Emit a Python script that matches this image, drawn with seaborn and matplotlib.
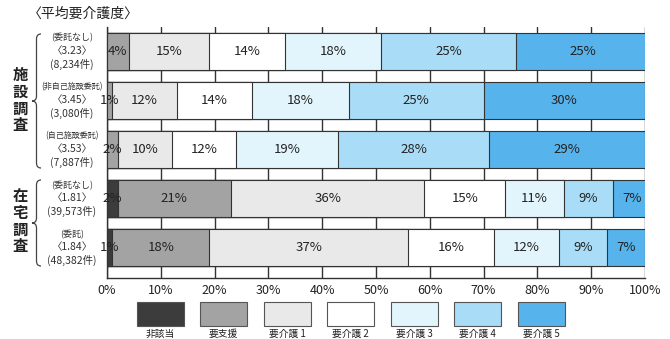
import numpy as np
import pandas as pd
import matplotlib
matplotlib.use("Agg")
import matplotlib.pyplot as plt
import seaborn as sns
from matplotlib.path import Path
from matplotlib.patches import PathPatch, Rectangle

# ---------------- data ----------------
rows = ["施設_委託なし", "施設_非自己施設委託", "施設_自己施設委託", "在宅_委託なし", "在宅_委託"]
row_types = ["(委託なし)", "(非自己施設委託)", "(自己施設委託)", "(委託なし)", "(委託)"]
row_avgs = ["〈3.23〉", "〈3.45〉", "〈3.53〉", "〈1.81〉", "〈1.84〉"]
row_counts = ["(8,234件)", "(3,080件)", "(7,887件)", "(39,573件)", "(48,382件)"]
categories = ["非該当", "要支援", "要介護 1", "要介護 2", "要介護 3", "要介護 4", "要介護 5"]
v_higaito = [0, 0, 0, 2, 1]
v_yoshien = [4, 1, 2, 21, 18]
v_kaigo1 = [15, 12, 10, 36, 37]
v_kaigo2 = [14, 14, 12, 15, 16]
v_kaigo3 = [18, 18, 19, 11, 12]
v_kaigo4 = [25, 25, 28, 9, 9]
v_kaigo5 = [25, 30, 29, 7, 7]
groups = ["施設調査", "在宅調査"]
x_ticks = [0, 10, 20, 30, 40, 50, 60, 70, 80, 90, 100]
title = "〈平均要介護度〉"

colors = ["#3c3c3c", "#a3a3a3", "#e9e9e9", "#ffffff", "#e2f4fc", "#a9dcf6", "#56b3ec"]

# ---------------- setup ----------------
sns.set_theme(style="white")
plt.rcParams["font.family"] = ["Noto Sans CJK JP", "DejaVu Sans"]

fig = plt.figure(figsize=(6.7, 3.39), dpi=100)
ax = fig.add_axes([107 / 670, 1 - 278 / 339, 538 / 670, (278 - 27) / 339])

vals = np.array([v_higaito, v_yoshien, v_kaigo1, v_kaigo2, v_kaigo3, v_kaigo4, v_kaigo5], dtype=float)
cum = np.cumsum(vals, axis=0)

# gridlines behind
for t in x_ticks:
    ax.axvline(t, color="#333333", lw=1.0, zorder=0)

# stacked bars: overlay cumulative bars from longest to shortest
for i in range(len(categories) - 1, -1, -1):
    df = pd.DataFrame({"row": rows, "cum": cum[i]})
    sns.barplot(data=df, x="cum", y="row", orient="h", color=colors[i],
                width=0.755, edgecolor="#333333", linewidth=0.8, ax=ax,
                saturation=1, zorder=2 + (len(categories) - i))

# percentage labels
for r in range(len(rows)):
    for i in range(len(categories)):
        v = vals[i, r]
        if v <= 0:
            continue
        xc = cum[i, r] - v / 2
        ax.text(xc, r, f"{int(v)}%", ha="center", va="center", fontsize=9.5,
                color="#222222", zorder=20)

ax.set_xlim(0, 100)
ax.set_ylim(4.62, -0.49)
ax.set_xticks(x_ticks)
ax.set_xticklabels([f"{t}%" for t in x_ticks], fontsize=9, color="#222222")
ax.set_yticks(range(len(rows)))
ax.set_yticklabels([])
ax.tick_params(axis="both", length=0, pad=4)
ax.set_xlabel("")
ax.set_ylabel("")
for s in ["top", "right"]:
    ax.spines[s].set_visible(False)
for s in ["left", "bottom"]:
    ax.spines[s].set_visible(True)
    ax.spines[s].set_color("#333333")
    ax.spines[s].set_linewidth(1.0)
ax.set_facecolor("none")

# row labels (three lines each)
row_y_px = [51, 100, 149, 198.5, 247.5]
for t1, t2, t3, yp in zip(row_types, row_avgs, row_counts, row_y_px):
    fig.text(72 / 670, 1 - (yp - 13) / 339, t1, ha="center", va="center",
             fontsize=5.8 if len(t1) > 6 else 6.5, color="#333333")
    fig.text(72 / 670, 1 - yp / 339, t2, ha="center", va="center",
             fontsize=7.5, color="#333333")
    fig.text(72 / 670, 1 - (yp + 13) / 339, t3, ha="center", va="center",
             fontsize=7.5, color="#333333")

# group labels
fig.text(20 / 670, 1 - 100 / 339, "\n".join(groups[0]), ha="center", va="center",
         fontsize=11, fontweight="bold", linespacing=1.05, color="#222222")
fig.text(20 / 670, 1 - 221 / 339, "\n".join(groups[1]), ha="center", va="center",
         fontsize=11, fontweight="bold", linespacing=1.05, color="#222222")


def brace(x, ytop, ybot, w=9):
    H = 339.0
    W = 670.0
    ym = (ytop + ybot) / 2
    r = 5
    pts = [
        (x + w, ytop), (x + w / 2, ytop), (x + w / 2, ytop + r),
        (x + w / 2, ym - r),
        (x + w / 2, ym), (x, ym),
        (x + w / 2, ym), (x + w / 2, ym + r),
        (x + w / 2, ybot - r),
        (x + w / 2, ybot), (x + w, ybot),
    ]
    codes = [Path.MOVETO, Path.CURVE3, Path.CURVE3, Path.LINETO,
             Path.CURVE3, Path.CURVE3, Path.CURVE3, Path.CURVE3,
             Path.LINETO, Path.CURVE3, Path.CURVE3]
    pts = [(px / W, 1 - py / H) for px, py in pts]
    patch = PathPatch(Path(pts, codes), transform=fig.transFigure, fill=False,
                      edgecolor="#444444", lw=0.9)
    fig.patches.append(patch)


brace(32, 34, 168)
brace(32, 180, 266)

# title
fig.text(28 / 670, 1 - 14 / 339, title, ha="left", va="center", fontsize=10, color="#222222")

# legend (boxes with labels beneath)
for k, (c, lab) in enumerate(zip(colors, categories)):
    cx = 160 + k * 63.5
    rect = Rectangle(((cx - 23.5) / 670, 1 - 326 / 339), 47 / 670, 24 / 339,
                     transform=fig.transFigure, facecolor=c, edgecolor="#555555", lw=0.8)
    fig.patches.append(rect)
    fig.text(cx / 670, 1 - 333.5 / 339, lab, ha="center", va="center", fontsize=7, color="#222222")

fig.savefig("out.png", dpi=100)
